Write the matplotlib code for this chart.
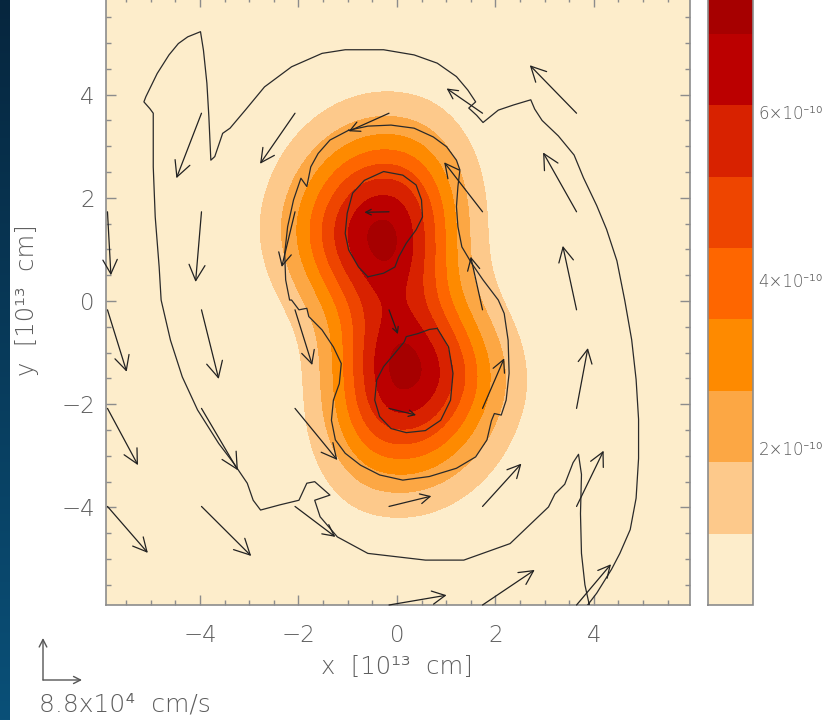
import numpy as np
import matplotlib
matplotlib.use("Agg")
import matplotlib.pyplot as plt
from matplotlib.colors import ListedColormap, BoundaryNorm
from matplotlib.cm import ScalarMappable

plt.rcParams['font.family'] = ['DejaVu Sans', 'Noto Sans']
plt.rcParams['font.weight'] = 200
plt.rcParams['axes.unicode_minus'] = True

# ---------------- data ----------------
# colour levels (units of 1e-10) and band colours (bottom -> top)
level_bounds = [0.13, 0.98, 1.83, 2.68, 3.53, 4.38, 5.23, 6.08, 6.93, 7.78]
band_colors = ['#fdedcb', '#fdc98b', '#fca744', '#fe8a00', '#fe6600',
               '#ee4500', '#d82200', '#bb0000', '#a60000']
cbar_ticks = [2, 4, 6]
cbar_ticklabels = ['2×10⁻¹⁰', '4×10⁻¹⁰', '6×10⁻¹⁰']

# density: two cores, each with separate widths on each side
blob_x = [-0.32, 0.18]
blob_y = [1.35, -1.45]
blob_angle = [-15.0, -15.0]
blob_s_left = [1.25, 1.00]
blob_s_right = [1.05, 1.25]
blob_s_down = [1.18, 1.40]
blob_s_up = [1.38, 1.15]
blob_amp = [6.85, 6.85]

# black contour lines (traced)
upper_core_x = [-0.59, -0.78, -0.98, -1.05, -1.01, -0.90, -0.66, -0.27, 0.12, 0.39, 0.50, 0.52, 0.39, 0.19, 0.04, -0.04, -0.27, -0.59]
upper_core_y = [0.47, 0.66, 0.99, 1.31, 1.70, 2.09, 2.34, 2.51, 2.44, 2.25, 1.96, 1.63, 1.38, 1.12, 0.86, 0.66, 0.54, 0.47]
lower_core_x = [0.82, 1.05, 1.14, 1.09, 0.89, 0.58, 0.19, -0.12, -0.35, -0.45, -0.41, -0.27, -0.04, 0.15, 0.19, 0.43, 0.66, 0.82]
lower_core_y = [-0.53, -0.89, -1.40, -1.92, -2.31, -2.51, -2.55, -2.47, -2.24, -1.92, -1.53, -1.27, -1.01, -0.79, -0.69, -0.63, -0.55, -0.53]
middle_x = [-0.98, -0.59, -0.12, 0.35, 0.74, 1.01, 1.21, 1.28, 1.24, 1.21, 1.24, 1.32, 1.52, 1.75, 2.06,
            2.18, 2.26, 2.28, 2.22, 2.12, 1.98, 1.92, 1.83, 1.60, 1.21, 0.66, 0.12, -0.35, -0.74, -1.05,
            -1.25, -1.33, -1.29, -1.17, -1.13, -1.29, -1.52, -1.79, -1.83, -1.99, -2.14, -2.18, -2.26,
            -2.28, -2.22, -2.10, -1.95, -1.83, -1.75, -1.60, -1.36, -0.98]
middle_y = [3.31, 3.39, 3.41, 3.35, 3.18, 2.99, 2.73, 2.54, 2.22, 1.83, 1.44, 1.05, 0.73, 0.41, 0.02,
            -0.24, -0.76, -1.40, -1.92, -2.21, -2.18, -2.32, -2.69, -3.02, -3.24, -3.40, -3.47, -3.37, -3.18, -2.95,
            -2.69, -2.31, -1.92, -1.60, -1.21, -0.89, -0.56, -0.30, -0.14, -0.17, 0.02, 0.02, 0.41,
            0.92, 1.44, 1.96, 2.38, 2.22, 2.60, 2.86, 3.12, 3.31]
outer_x = [3.82, 4.06, 4.36, 4.53, 4.74, 4.86, 4.91, 4.91, 4.86, 4.77, 4.63, 4.47, 4.26, 4.06, 3.79,
           3.60, 3.28, 2.95, 2.80, 2.72, 2.37, 2.06, 1.75, 1.62, 1.46, 1.60, 1.44, 1.21, 0.82, 0.35,
           -0.27, -1.05, -1.52, -2.14, -2.69, -3.08, -3.39, -3.54, -3.70, -3.78, -3.82, -3.86, -3.93,
           -3.99, -4.25, -4.44, -4.63, -4.87, -5.10, -5.14, -5.02, -4.95, -4.95, -4.91, -4.83, -4.79,
           -4.60, -4.36, -4.05, -3.62, -3.31, -3.04, -2.92, -2.77, -2.38, -1.99, -1.83, -1.67, -1.36,
           -1.67, -1.56, -1.21, -0.59, 0.58, 1.36, 2.30, 3.08, 3.21, 3.41, 3.58, 3.69, 3.75, 3.73,
           3.75, 3.82, 3.91]
outer_y = [-5.96, -5.66, -5.20, -4.89, -4.43, -3.82, -3.05, -2.29, -1.52, -0.75, 0.01, 0.78, 1.39, 1.85, 2.39,
           2.83, 3.20, 3.50, 3.72, 3.90, 3.80, 3.70, 3.46, 3.60, 3.74, 3.86, 4.09, 4.35, 4.61, 4.77,
           4.87, 4.87, 4.80, 4.54, 4.15, 3.70, 3.35, 3.25, 2.80, 2.73, 3.57, 4.22, 4.86,
           5.22, 5.12, 4.99, 4.77, 4.41, 3.96, 3.86, 3.73, 3.64, 2.60, 1.63, 0.66, 0.02,
           -0.76, -1.47, -2.11, -2.76, -3.15, -3.53, -3.86, -4.05, -3.95, -3.86, -3.53, -3.50, -3.76,
           -3.86, -4.18, -4.57, -4.89, -5.02, -5.02, -4.70, -3.99, -3.74, -3.55, -3.13, -2.97, -3.36, -4.12,
           -4.89, -5.50, -5.89]

# velocity arrows: tail position and displacement (data units)
arrow_x = [-3.97, -2.07, -0.16, 1.74, 3.65,
           -5.88, -3.97, -2.07, -0.16, 1.74, 3.65,
           -5.88, -3.97, -2.07, -0.16, 1.74, 3.65,
           -5.88, -3.97, -2.07, -0.16, 1.74, 3.65,
           -5.88, -3.97, -2.07, -0.16, 1.74, 3.65,
           -0.16, 1.74, 3.65]
arrow_y = [3.64] * 5 + [1.73] * 6 + [-0.17] * 6 + [-2.08] * 6 + [-3.98] * 6 + [-5.89] * 3
arrow_u = [-0.51, -0.71, -0.82, -0.73, -0.95,
           0.07, -0.12, -0.27, -0.50, -0.78, -0.68,
           0.39, 0.35, 0.35, 0.18, -0.24, -0.28,
           0.62, 0.74, 0.86, 0.55, 0.44, 0.23,
           0.82, 1.01, 0.82, 0.86, 0.79, 0.55,
           1.17, 1.06, 0.70]
arrow_v = [-1.26, -0.98, -0.35, 0.48, 0.93,
           -1.23, -1.36, -1.07, -0.01, 0.96, 1.15,
           -1.20, -1.34, -1.07, -0.47, 1.03, 1.24,
           -1.10, -1.20, -1.00, -0.13, 0.97, 1.17,
           -0.90, -0.96, -0.59, 0.20, 0.83, 1.08,
           0.19, 0.68, 0.79]

x_ticks = [-4, -2, 0, 2, 4]
y_ticks = [-4, -2, 0, 2, 4]
x_limits = (-5.91, 5.955)
y_limits = (-5.89, 5.90)
x_label = 'x  [10¹³  cm]'
y_label = 'y  [10¹³  cm]'
ref_label = '8.8x10⁴  cm/s'

TEXT_COLOR = '#5e5e5e'

# ---------------- figure ----------------
W, H = 828, 720
fig = plt.figure(figsize=(W / 100, H / 100), dpi=100)
fig.patch.set_facecolor('white')

# dark blue strip at the left edge (slide background)
strip = fig.add_axes([0, 0, 10 / W, 1])
grad = np.linspace(0, 1, 256).reshape(-1, 1)
strip.imshow(grad, aspect='auto', cmap=ListedColormap(
    [tuple(np.array([6, 38, 62]) / 255 * (1 - t) + np.array([10, 80, 120]) / 255 * t) for t in np.linspace(0, 1, 256)]),
    extent=[0, 1, 0, 1], origin='upper')
strip.set_axis_off()

ax_top_px = -3.4
ax = fig.add_axes([106 / W, (H - 605) / H, 584 / W, (605 - ax_top_px) / H])
ax.set_facecolor(band_colors[0])

gx = np.linspace(x_limits[0], x_limits[1], 500)
gy = np.linspace(y_limits[0], y_limits[1], 500)
GX, GY = np.meshgrid(gx, gy)
Z = np.zeros_like(GX)
for bx, by, ang, sl, sr, sd, su, a in zip(blob_x, blob_y, blob_angle, blob_s_left, blob_s_right,
                                          blob_s_down, blob_s_up, blob_amp):
    t = np.radians(ang)
    dx, dy = GX - bx, GY - by
    u = np.cos(t) * dx + np.sin(t) * dy
    v = -np.sin(t) * dx + np.cos(t) * dy
    su_ = np.where(u < 0, sl, sr)
    sv_ = np.where(v < 0, sd, su)
    Z += a * np.exp(-(u ** 2 / (2 * su_ ** 2) + v ** 2 / (2 * sv_ ** 2)))

ax.contourf(GX, GY, Z, levels=level_bounds[1:] + [100], colors=band_colors[1:], zorder=1)

line_kw = dict(color='#2a2a2a', lw=0.9, zorder=3)
ax.plot(outer_x, outer_y, **line_kw)
ax.plot(middle_x, middle_y, **line_kw)
ax.plot(upper_core_x, upper_core_y, **line_kw)
ax.plot(lower_core_x, lower_core_y, **line_kw)

ax.set_xlim(*x_limits)
ax.set_ylim(*y_limits)
ax.set_xticks(x_ticks)
ax.set_yticks(y_ticks)
ax.set_xticks(np.arange(-5.5, 6.0, 0.5), minor=True)
ax.set_yticks(np.arange(-5.5, 6.0, 0.5), minor=True)
for s in ax.spines.values():
    s.set_color('#8c8c8c')
    s.set_linewidth(1.2)
ax.tick_params(which='both', direction='in', top=True, right=True, color='#8c8c8c',
               labelcolor=TEXT_COLOR, labelsize=16.5, width=1.0)
ax.tick_params(which='major', length=7.2)
ax.tick_params(which='minor', length=3.6)
ax.tick_params(axis='x', pad=14)
ax.tick_params(axis='y', pad=8)


def draw_arrow(axes, x0, y0, x1, y1, transform_coords='data', frac=0.25, ang=27, lw=0.9, color='#222222'):
    if transform_coords == 'data':
        p0 = axes.transData.transform((x0, y0))
        p1 = axes.transData.transform((x1, y1))
    else:
        p0 = fig.transFigure.transform((x0, y0))
        p1 = fig.transFigure.transform((x1, y1))
    L = np.hypot(*(p1 - p0)) * 72.0 / fig.dpi
    hl = frac * L * np.cos(np.radians(ang))
    hw = frac * L * np.sin(np.radians(ang))
    kw = dict(arrowstyle=f'->,head_length={hl:.3f},head_width={hw:.3f}', lw=lw, color=color,
              shrinkA=0, shrinkB=0, mutation_scale=1)
    if transform_coords == 'data':
        axes.annotate('', xy=(x1, y1), xytext=(x0, y0), xycoords='data', textcoords='data',
                      arrowprops=kw, annotation_clip=False, zorder=4)
    else:
        fig.add_artist(matplotlib.patches.FancyArrowPatch((x0, y0), (x1, y1), transform=fig.transFigure,
                                                          **kw))


for x0, y0, u, v in zip(arrow_x, arrow_y, arrow_u, arrow_v):
    draw_arrow(ax, x0, y0, x0 + u, y0 + v)

# axis labels
fig.text(397 / W, 1 - 667 / H, x_label, ha='center', va='center', fontsize=17.5, color=TEXT_COLOR)
fig.text(27 / W, 1 - 300 / H, y_label, ha='center', va='center', rotation=90,
         fontsize=17.5, color=TEXT_COLOR)

# reference arrows
draw_arrow(None, 43 / W, 1 - 680 / H, 43 / W, 1 - 638 / H, transform_coords='fig', frac=0.2, lw=1.0, color='#555555')
draw_arrow(None, 43 / W, 1 - 680 / H, 82 / W, 1 - 680 / H, transform_coords='fig', frac=0.2, lw=1.0, color='#555555')
fig.text(39 / W, 1 - 705 / H, ref_label, ha='left', va='center', fontsize=18, color=TEXT_COLOR)

# colour bar
cb_top_px = -37.5
cax = fig.add_axes([708 / W, (H - 605) / H, 45 / W, (605 - cb_top_px) / H])
cmap = ListedColormap(band_colors)
norm = BoundaryNorm(level_bounds, cmap.N)
cb = fig.colorbar(ScalarMappable(norm=norm, cmap=cmap), cax=cax, spacing='proportional', ticks=cbar_ticks)
cb.ax.minorticks_off()
cb.ax.set_yticklabels(cbar_ticklabels)
cb.ax.tick_params(which='both', length=0, labelsize=12, labelcolor=TEXT_COLOR, pad=4)
cb.outline.set_edgecolor('#8c8c8c')
cb.outline.set_linewidth(1.2)

fig.savefig('out.png', dpi=100, facecolor='white')
